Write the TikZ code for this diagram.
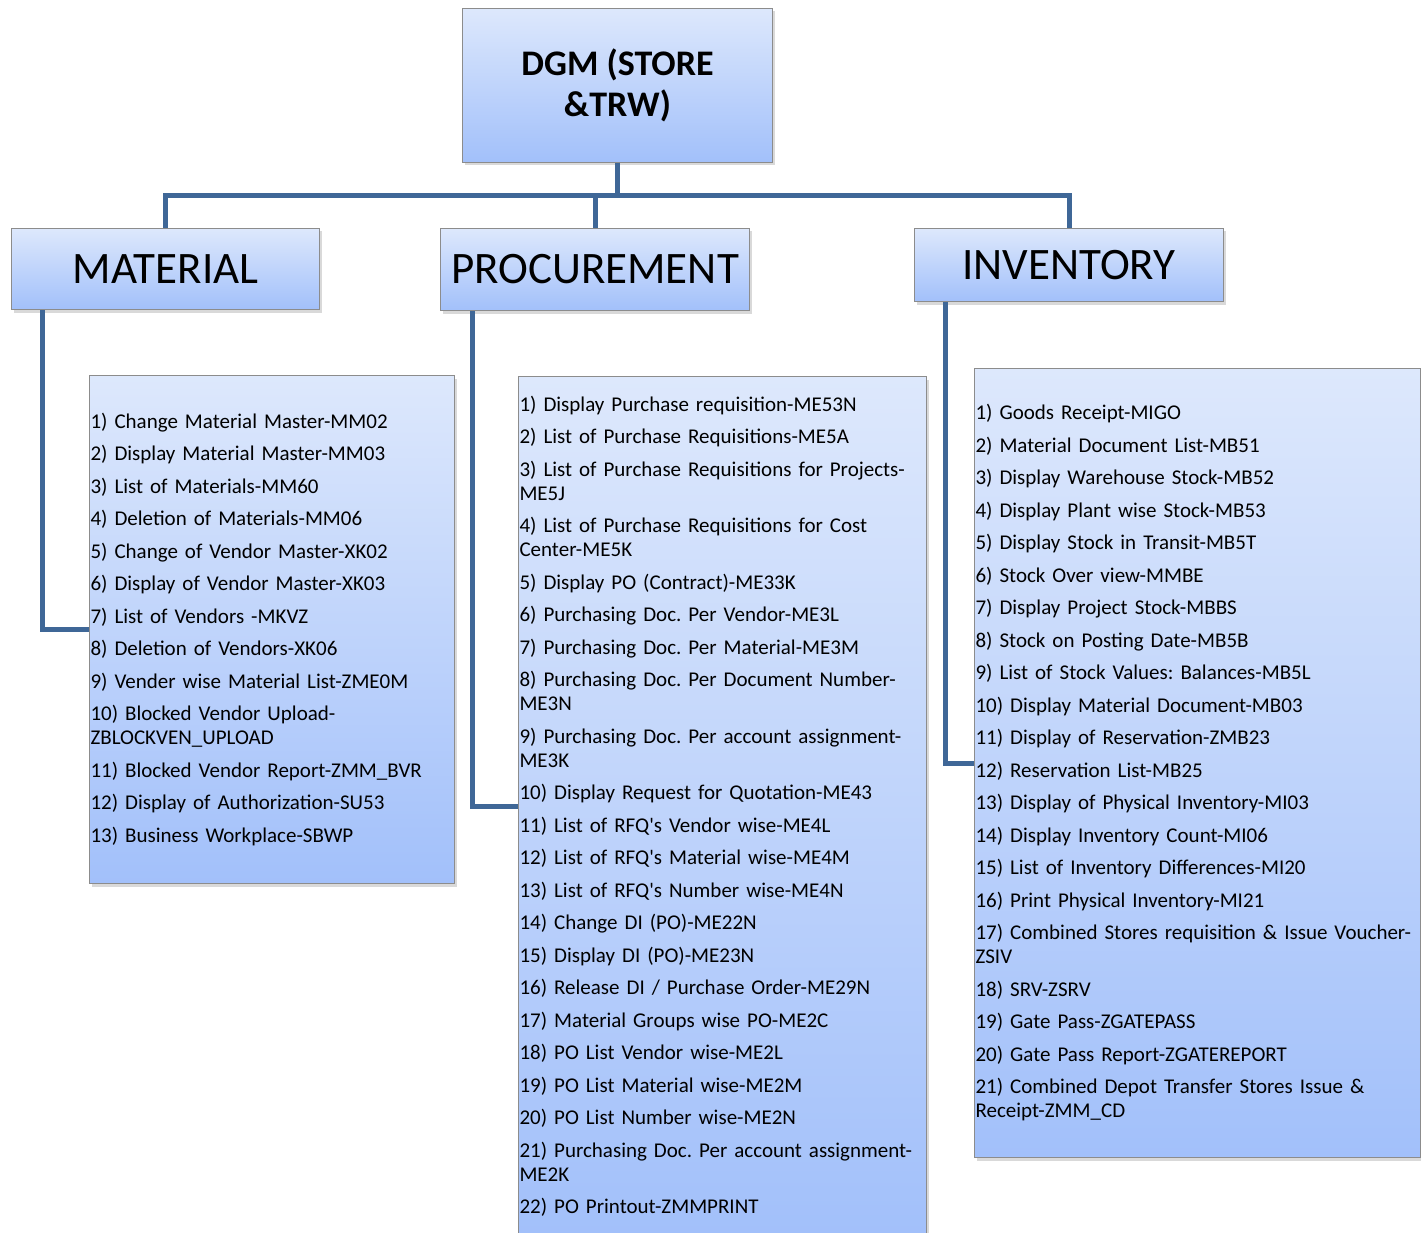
\documentclass[tikz,border=0pt]{standalone}
\usepackage{fontspec}
\setmainfont{Carlito}
\frenchspacing
\usetikzlibrary{shadows}
\definecolor{linkblue}{HTML}{3F6797}
\definecolor{boxtop}{HTML}{DDE8FC}
\definecolor{boxbot}{HTML}{A2C0FA}
\definecolor{boxline}{HTML}{8C8C8C}
\begin{document}
\begin{tikzpicture}[x=1pt, y=-1pt,
    box/.style={draw=boxline, line width=1pt, top color=boxtop, bottom color=boxbot,
        inner sep=0pt, anchor=north west,
        drop shadow={shadow xshift=2pt, shadow yshift=-3pt, opacity=0.3}},
    head/.style={box, font=\fontsize{45}{52}\selectfont},
    list/.style={box, inner xsep=1pt, align=left, font=\fontsize{21}{24}\selectfont},
    link/.style={draw=linkblue, line width=5pt}]
    \useasboundingbox (0,0) rectangle (1421,1233);

    % Top box
    \node[box, minimum width=310pt, minimum height=154pt, align=center,
        font=\fontsize{36}{41}\selectfont\bfseries] (dgm) at (462,8) {DGM (STORE\\\&TRW)};

    % Heads
    \node[head, minimum width=308pt, minimum height=81pt] (mat) at (11,228) {MATERIAL};
    \node[head, minimum width=309pt, minimum height=82pt] (proc) at (440,228) {PROCUREMENT};
    \node[head, minimum width=309pt, minimum height=73pt] (inv) at (914,228) {INVENTORY};

    % Lists
    \node[list, text width=363pt, minimum height=508pt] (mat-list) at (89,375) {%
        1) Change Material Master-MM02\\[8.5pt]
        2) Display Material Master-MM03\\[8.5pt]
        3) List of Materials-MM60\\[8.5pt]
        4) Deletion of Materials-MM06\\[8.5pt]
        5) Change of Vendor Master-XK02\\[8.5pt]
        6) Display of Vendor Master-XK03\\[8.5pt]
        7) List of Vendors -MKVZ\\[8.5pt]
        8) Deletion of Vendors-XK06\\[8.5pt]
        9) Vender wise Material List-ZME0M\\[8.5pt]
        10) Blocked Vendor Upload-\\ZBLOCKVEN\_UPLOAD\\[8.5pt]
        11) Blocked Vendor Report-ZMM\_BVR\\[8.5pt]
        12) Display of Authorization-SU53\\[8.5pt]
        13) Business Workplace-SBWP};

    \node[list, text width=406pt, minimum height=860pt] (proc-list) at (518,376) {%
        1) Display Purchase requisition-ME53N\\[8.5pt]
        2) List of Purchase Requisitions-ME5A\\[8.5pt]
        3) List of Purchase Requisitions for Projects-\\ME5J\\[8.5pt]
        4) List of Purchase Requisitions for Cost\\Center-ME5K\\[8.5pt]
        5) Display PO (Contract)-ME33K\\[8.5pt]
        6) Purchasing Doc. Per Vendor-ME3L\\[8.5pt]
        7) Purchasing Doc. Per Material-ME3M\\[8.5pt]
        8) Purchasing Doc. Per Document Number-\\ME3N\\[8.5pt]
        9) Purchasing Doc. Per account assignment-\\ME3K\\[8.5pt]
        10) Display Request for Quotation-ME43\\[8.5pt]
        11) List of RFQ\textquotesingle s Vendor wise-ME4L\\[8.5pt]
        12) List of RFQ\textquotesingle s Material wise-ME4M\\[8.5pt]
        13) List of RFQ\textquotesingle s Number wise-ME4N\\[8.5pt]
        14) Change DI (PO)-ME22N\\[8.5pt]
        15) Display DI (PO)-ME23N\\[8.5pt]
        16) Release DI / Purchase Order-ME29N\\[8.5pt]
        17) Material Groups wise PO-ME2C\\[8.5pt]
        18) PO List Vendor wise-ME2L\\[8.5pt]
        19) PO List Material wise-ME2M\\[8.5pt]
        20) PO List Number wise-ME2N\\[8.5pt]
        21) Purchasing Doc. Per account assignment-\\ME2K\\[8.5pt]
        22) PO Printout-ZMMPRINT};

    \node[list, text width=444pt, minimum height=789pt] (inv-list) at (974,368) {%
        1) Goods Receipt-MIGO\\[8.5pt]
        2) Material Document List-MB51\\[8.5pt]
        3) Display Warehouse Stock-MB52\\[8.5pt]
        4) Display Plant wise Stock-MB53\\[8.5pt]
        5) Display Stock in Transit-MB5T\\[8.5pt]
        6) Stock Over view-MMBE\\[8.5pt]
        7) Display Project Stock-MBBS\\[8.5pt]
        8) Stock on Posting Date-MB5B\\[8.5pt]
        9) List of Stock Values: Balances-MB5L\\[8.5pt]
        10) Display Material Document-MB03\\[8.5pt]
        11) Display of Reservation-ZMB23\\[8.5pt]
        12) Reservation List-MB25\\[8.5pt]
        13) Display of Physical Inventory-MI03\\[8.5pt]
        14) Display Inventory Count-MI06\\[8.5pt]
        15) List of Inventory Differences-MI20\\[8.5pt]
        16) Print Physical Inventory-MI21\\[8.5pt]
        17) Combined Stores requisition \& Issue Voucher-\\ZSIV\\[8.5pt]
        18) SRV-ZSRV\\[8.5pt]
        19) Gate Pass-ZGATEPASS\\[8.5pt]
        20) Gate Pass Report-ZGATEREPORT\\[8.5pt]
        21) Combined Depot Transfer Stores Issue \&\\Receipt-ZMM\_CD};

    % Connectors
    \foreach \n in {mat, proc, inv}
        \draw[link] (dgm.south) -- ++(0,33) -| (\n.north);
    \foreach \n/\s in {mat/31, proc/32, inv/31}
        \draw[link] ([xshift=\s pt]\n.south west) |- (\n-list.west);
\end{tikzpicture}
\end{document}
